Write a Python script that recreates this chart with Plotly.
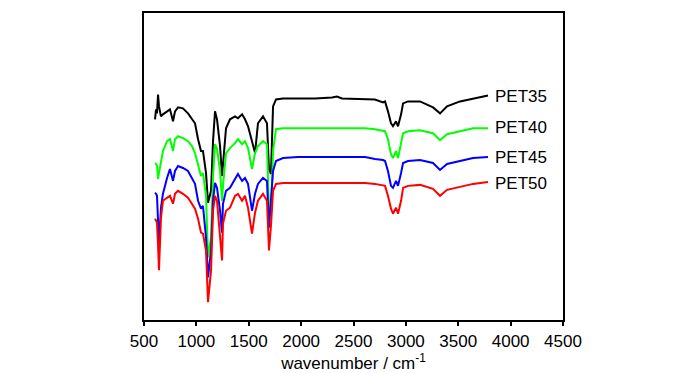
import plotly.graph_objects as go

# wavenumber grid (cm-1)
wavenumber = [605, 615, 624, 634, 643, 662, 681, 720, 748, 777, 796, 825, 872, 920, 958, 987,
              1016, 1044, 1063, 1092, 1111, 1140, 1159, 1178, 1197, 1226, 1245, 1254, 1283, 1321,
              1369, 1397, 1436, 1464, 1493, 1531, 1560, 1588, 1636, 1674, 1693, 1712, 1732, 1760,
              1827,
              1970, 2133, 2295, 2342, 2390, 2610, 2705, 2782, 2801, 2829, 2858, 2877, 2906, 2925,
              2954, 2973, 3020, 3135, 3259, 3326, 3393, 3517, 3641, 3784]

# offset transmittance (arbitrary units)
pet35 = [202, 212, 208, 227, 215, 205, 207, 210, 212, 200, 210, 214, 213, 208, 202, 198,
         182, 170, 170, 148, 118, 130, 180, 210, 202, 175, 145, 155, 193, 202,
         205, 203, 207, 202, 195, 180, 168, 198, 205, 198, 152, 147, 215, 222,
         223,
         223, 223, 224, 225, 223, 222, 222, 219, 220, 210, 198, 195, 200, 195,
         207, 218, 220, 220, 214, 208, 215, 220, 223, 226]
pet40 = [158, 157, 155, 142, 148, 160, 170, 180, 182, 170, 182, 185, 183, 180, 175, 168,
         155, 145, 148, 125, 63, 83, 145, 177, 172, 150, 120, 135, 168, 173,
         178, 182, 177, 180, 173, 152, 168, 175, 180, 177, 110, 105, 170, 192,
         193,
         193, 193, 193, 193, 193, 193, 192, 190, 190, 182, 167, 163, 170, 163,
         177, 188, 190, 191, 188, 181, 187, 190, 193, 193]
pet45 = [128, 127, 125, 95, 77, 113, 127, 143, 152, 140, 150, 155, 153, 150, 143, 137,
         120, 112, 115, 83, 43, 70, 120, 138, 133, 110, 88, 117, 130, 133,
         142, 147, 140, 143, 137, 110, 127, 137, 143, 140, 93, 120, 150, 160,
         163,
         164, 164, 164, 164, 164, 164, 162, 161, 160, 150, 135, 133, 140, 135,
         148, 158, 160, 161, 158, 151, 157, 160, 163, 164]
pet50 = [102, 100, 98, 75, 50, 103, 120, 123, 125, 117, 127, 130, 127, 123, 117, 112,
         102, 88, 87, 70, 18, 50, 110, 125, 120, 87, 60, 97, 110, 113,
         125, 127, 120, 125, 113, 87, 108, 120, 127, 120, 70, 95, 130, 137,
         138,
         138, 138, 138, 138, 138, 138, 137, 135, 135, 125, 112, 107, 113, 107,
         120, 133, 135, 136, 132, 125, 131, 134, 137, 139]

series_names = ["PET35", "PET40", "PET45", "PET50"]
series_values = [pet35, pet40, pet45, pet50]
series_colors = ["#000000", "#00ff00", "#0000ff", "#ff0000"]
label_y = [225, 194, 164, 137]
label_x = 3830

x_ticks = [500, 1000, 1500, 2000, 2500, 3000, 3500, 4000, 4500]

FONT = "Liberation Sans, Arial, sans-serif"

fig = go.Figure()
for name, vals, col in zip(series_names, series_values, series_colors):
    fig.add_trace(go.Scatter(x=wavenumber, y=vals, mode="lines", name=name,
                             line=dict(color=col, width=2), showlegend=False))

for name, ly in zip(series_names, label_y):
    fig.add_annotation(x=label_x, y=ly, text=name, showarrow=False, xanchor="left",
                       yanchor="middle", font=dict(family=FONT, size=17, color="black"))

fig.update_layout(
    width=700, height=373,
    margin=dict(l=136, r=145, t=3, b=61),
    paper_bgcolor="white", plot_bgcolor="white",
    font=dict(family=FONT, size=17, color="black"),
)
fig.update_xaxes(range=[500, 4500], tickvals=x_ticks, ticktext=[str(t) for t in x_ticks],
                 showgrid=False, zeroline=False, showline=True, linecolor="black", linewidth=1.5,
                 mirror=True, ticks="outside", ticklen=4, tickcolor="black", tickwidth=1.5,
                 ticklabelstandoff=1,
                 title=dict(text="wavenumber / cm<sup>-1</sup>", standoff=3,
                            font=dict(family=FONT, size=17)),
                 tickfont=dict(family=FONT, size=17))
fig.update_yaxes(range=[0, 309], showgrid=False, zeroline=False, showline=True,
                 linecolor="black", linewidth=1.5, mirror=True, showticklabels=False, ticks="")

fig.write_html("out.html")
